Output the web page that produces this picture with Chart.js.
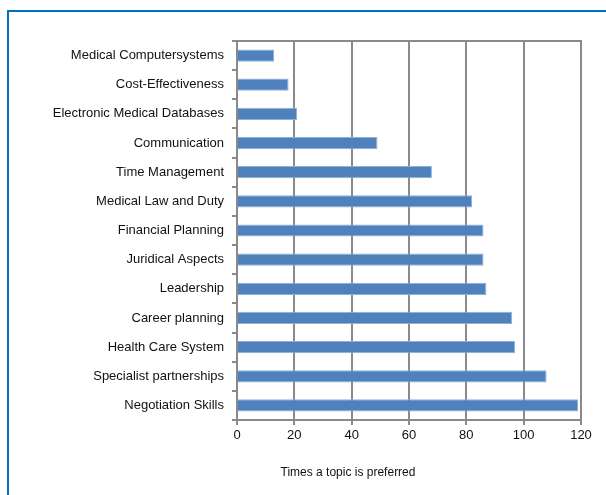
<!DOCTYPE html>
<html>
<head>
<meta charset="utf-8">
<script src="https://cdn.jsdelivr.net/npm/chart.js@4/dist/chart.umd.min.js"></script>
<style>
  html, body { margin: 0; padding: 0; background: #fff; }
  #wrap { position: relative; width: 606px; height: 495px; overflow: hidden; }
  #frame { position: absolute; left: 7px; top: 10px; width: 700px; height: 600px;
           border-top: 2px solid #0070C0; border-left: 2px solid #0070C0; }
  canvas { position: absolute; left: 0; top: 0; }
</style>
</head>
<body>
<div id="wrap">
  <div id="frame"></div>
  <canvas id="chart" width="606" height="495"></canvas>
</div>
<script>
// data
const topics = [
  'Medical Computersystems', 'Cost-Effectiveness', 'Electronic Medical Databases',
  'Communication', 'Time Management', 'Medical Law and Duty', 'Financial Planning',
  'Juridical Aspects', 'Leadership', 'Career planning', 'Health Care System',
  'Specialist partnerships', 'Negotiation Skills'
];
const timesPreferred = [13, 18, 21, 49, 68, 82, 86, 86, 87, 96, 97, 108, 119];
const xTicks = [0, 20, 40, 60, 80, 100, 120];
const xTitle = 'Times a topic is preferred';

const GRID = '#8a8a8a';
const FONT = { family: 'Liberation Sans, Arial, sans-serif', size: 13 };

// top border of plot + axis title under the chart
const extras = {
  id: 'extras',
  afterDraw(chart){
    const { ctx, chartArea: a } = chart;
    ctx.save();
    ctx.strokeStyle = GRID;
    ctx.lineWidth = 2;
    ctx.beginPath();
    ctx.moveTo(a.left - 4, a.top);
    ctx.lineTo(a.right + 1, a.top);
    ctx.stroke();
    ctx.fillStyle = '#111';
    ctx.font = '12px ' + FONT.family;
    ctx.textAlign = 'center';
    ctx.textBaseline = 'middle';
    ctx.fillText(xTitle, 348, 473);
    ctx.restore();
  }
};

new Chart(document.getElementById('chart'), {
  type: 'bar',
  data: {
    labels: topics,
    datasets: [{
      data: timesPreferred,
      backgroundColor: '#4F81BD',
      borderColor: '#8fb0d9',
      borderWidth: 1,
      borderSkipped: 'start',
      barPercentage: 0.42,
      categoryPercentage: 1
    }]
  },
  options: {
    indexAxis: 'y',
    responsive: false,
    animation: false,
    layout: { padding: { top: 41, right: 25, left: 10, bottom: 0 } },
    plugins: { legend: { display: false }, tooltip: { enabled: false } },
    scales: {
      x: {
        min: 0, max: 120,
        afterBuildTicks: s => { s.ticks = xTicks.map(v => ({ value: v })); },
        afterFit: s => { s.height = 75; },
        grid: { color: GRID, lineWidth: 2, tickLength: 5, drawTicks: true },
        border: { color: GRID, width: 2 },
        ticks: { color: '#111', font: FONT, padding: 3 }
      },
      y: {
        afterFit: s => { s.width = 227; },
        grid: { offset: true, drawOnChartArea: false, color: GRID, lineWidth: 2, tickLength: 5 },
        border: { color: GRID, width: 2 },
        ticks: { color: '#111', font: FONT, padding: 8 }
      }
    }
  },
  plugins: [extras]
});
</script>
</body>
</html>
